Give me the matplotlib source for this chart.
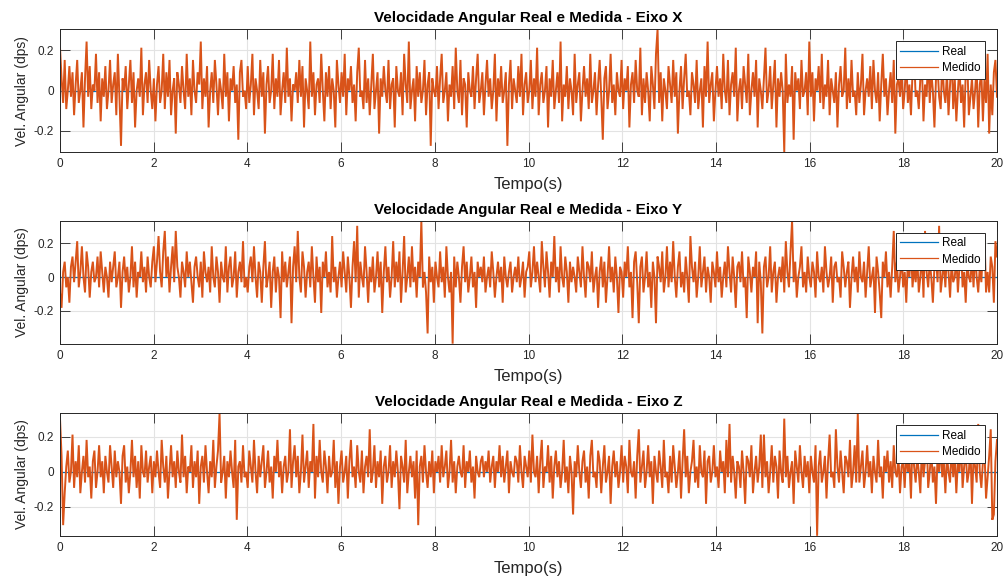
import numpy as np
import matplotlib
matplotlib.use("Agg")
import matplotlib.pyplot as plt

plt.rcParams['font.family'] = ['Liberation Sans', 'DejaVu Sans']

# gyro LSB in dps (measured values are quantized to this step)
LSB = 0.0305

titles = ["Velocidade Angular Real e Medida - Eixo X",
          "Velocidade Angular Real e Medida - Eixo Y",
          "Velocidade Angular Real e Medida - Eixo Z"]
legend_labels = ["Real", "Medido"]
x_label = "Tempo(s)"
y_label = "Vel. Angular (dps)"
x_ticks = [0, 2, 4, 6, 8, 10, 12, 14, 16, 18, 20]
y_ticks = [-0.2, 0, 0.2]
y_tick_labels = ["-0.2", "0", "0.2"]
t_start, t_end = 0.0, 20.0

real_t = [0.0, 20.0]
real_x = [0.0, 0.0]
real_y = [0.0, 0.0]
real_z = [0.0, 0.0]

medido_x_lsb = [
    7, 2, -2, 5, -3, 0, 4, -1, 3, -4, 1, 5, -2, 0, 3, -6, 2, 8, -1, 4, -3, 1, 0, 6, -2, 3, -5, 2, -1, 4,
    -3, 0, 5, -2, 1, 3, -4, 6, -1, -9, 2, 0, 4, -3, 1, 5, -2, 3, -6, 0, 2, -1, 7, -4, 1, 3, -2, 5, 0, -3,
    2, -5, 1, 4, -2, 0, 6, -3, 3, -1, 5, -4, 0, 2, -7, 3, 1, -2, 4, 0, -3, 6, -1, 2, -4, 5, 0, -2, 3, 1,
    8, -3, 2, -1, 4, -6, 0, 3, -2, 5, 1, -4, 2, 0, -3, 6, -1, 3, -5, 2, 0, 4, -2, 1, -8, 3, 5, -1, 0, -3,
    4, -2, 1, 6, -4, 2, 0, -3, 5, -1, 3, -7, 1, 4, -2, 0, 6, -3, 2, -1, 5, -4, 0, 3, -2, 7, -1, 2, -5, 1,
    0, 3, -2, 5, -1, 4, -6, 2, 0, -3, 8, -1, 3, -4, 1, 2, -2, 6, 0, -5, 3, -1, 4, -3, 2, 0, -6, 5, 1, -2,
    3, -1, 6, -4, 2, 0, 4, -2, 1, -5, 3, 7, -1, 0, -3, 5, -2, 2, -4, 1, 6, -3, 0, 3, -7, 2, -1, 4, 0, -2,
    5, -3, 1, 2, -6, 4, 0, -1, 3, -4, 6, 1, -2, 8, -3, 0, 2, -5, 4, -1, 3, -2, 0, 5, -4, 1, 3, -9, 2, 0,
    -1, 4, -3, 2, 6, -2, 0, 3, -5, 1, -1, 4, -3, 7, 0, -2, 5, -4, 2, 1, -6, 3, 0, -1, 4, -3, 2, 6, -2, 0,
    3, -4, 1, 5, -1, 2, -3, 0, 6, -5, 2, -1, 4, -2, 0, 3, -9, 1, 5, -3, 2, 0, -2, 4, -1, 6, -4, 1, 3, -2,
    0, 5, -3, 2, -1, 7, -4, 1, 3, -2, 0, 4, -6, 2, -1, 5, -3, 0, 3, -2, 8, -5, 1, -1, 4, -3, 2, 0, -4, 6,
    -2, 1, 3, -5, 0, 4, -1, 2, -3, 6, -2, 0, 3, -4, 1, 5, -1, -8, 2, 4, -3, 0, 6, -2, 1, -4, 3, 0, -1, 5,
    -3, 2, 0, 4, -6, 1, 3, -2, 5, 0, -1, 7, -4, 2, -2, 3, 0, -5, 4, 1, -3, 6, 10, -2, 3, -5, 2, 0, -3, 4,
    1, -2, 5, -1, 3, -7, 0, 4, -3, 2, 6, -1, 0, -4, 3, 1, -2, 5, -3, 0, 2, -6, 4, -1, 8, -2, 1, 3, -5, 0,
    4, -1, 2, -3, 6, 0, -2, 5, -4, 1, 3, -1, 7, -5, 0, 2, -3, 4, 1, -2, 6, -4, 0, 3, -1, 5, -6, 2, 0, -3,
    2, 7, -2, 0, 4, -3, 1, 5, -6, 2, -1, 3, 0, -10, 6, -2, 1, -1, 4, -8, 3, 0, 2, -3, 5, -1, 0, 3, -4, 8,
    -1, 3, -5, 2, 0, 4, -2, 6, -3, 1, -1, 5, -4, 2, 0, -2, 3, -6, 1, 4, -1, 0, 7, -3, 2, -2, 5, -1, 0, -4,
    3, -2, 1, 6, -4, 0, 2, -1, 4, -3, 5, 0, -2, 3, -5, 1, 6, -1, 2, -4, 0, 3, -2, 5, -7, 1, 2, -1, 4, -3,
    0, 5, -2, 1, -4, 3, 6, -1, 0, -3, 2, 4, -5, 1, -1, 6, -2, 3, 0, -6, 2, 4, -1, -3, 5, 0, -2, 3, -4, 1,
    6, -3, 2, -5, 0, 4, -2, 1, -6, 3, 5, -4, -1, 2, -3, 0, 4, -6, 1, 3, -5, 2, -2, 6, -7, 1, -4, 3, 5, -1,
]

medido_y_lsb = [
    -3, -6, 1, 3, -2, 0, -5, 2, 4, -1, 3, 7, -2, 1, 6, 0, -3, 5, 2, -4, 1, 3, -1, 0, 4, -2, 5, 1, -3, 2,
    0, -4, 3, -1, 2, 5, -2, 0, 3, -6, 1, 4, -1, 2, -3, 0, 6, -2, 3, -4, 1, 0, 5, -1, 2, -3, 4, 0, -2, 3,
    6, -1, 3, 8, 1, -2, 5, 9, 0, 4, -3, 2, 6, -1, 9, 2, 0, -4, 3, 1, -2, 5, 0, 3, -1, -5, 2, 4, 0, -2,
    3, -4, 5, 1, -1, 2, -3, 6, 0, -2, 4, 1, -5, 3, 0, -1, 6, -3, 2, 4, -2, 0, 5, -4, 1, 3, -1, 7, -2, 0,
    -3, 2, 4, -1, 6, 0, -4, 3, 1, -5, 2, 7, -2, 0, 3, -6, 1, 4, -3, 2, 0, -8, 5, -1, 3, -2, 1, 4, -9, 2,
    6, -1, 9, 0, -3, 5, 2, -4, 1, 3, -2, 6, 0, -5, 4, -1, 2, -7, 3, 0, 5, -2, 1, -3, 8, -1, 2, -4, 0, 3,
    -2, 5, 1, -3, 4, 0, -6, 2, 7, -1, 10, -4, 3, 0, -2, 6, 1, -5, 2, -1, 4, -3, 0, 5, -2, 3, -7, 1, 6, -1,
    2, -4, 0, 7, -2, 3, -1, 5, -5, 1, 8, -3, 0, 4, -2, 6, -1, 2, -4, 3, 0, 11, -2, 1, -3, -11, 4, -1, 2, -5,
    3, 0, -2, 5, -1, 2, -4, 6, 0, -3, 1, -13, 4, -2, 3, 0, -5, 2, 6, -1, 3, -3, 0, 4, -2, 1, -6, 3, 0, 2,
    -1, 4, -3, 0, 2, -2, 5, 1, -4, 0, 3, -1, 2, -5, 4, 0, -2, 1, 3, -3, 0, 2, -1, 4, -2, 0, 3, -4, 1, 2,
    5, -2, 1, 6, -1, 3, 0, -3, 7, 2, -2, 5, 1, -4, 3, 0, 8, -1, 2, -3, 6, 0, -2, 4, 1, -5, 3, -1, 2, 0,
    -3, 4, 1, -2, 6, 0, -4, 3, 2, -1, 5, -3, 0, 2, -6, 1, 4, -2, 3, -5, 0, 6, -1, 2, -3, 4, 0, -7, 2, 1,
    -4, 3, 0, 6, -2, 1, -8, 3, 5, -1, -9, 2, 4, -3, 0, 5, -2, 1, -6, 3, 0, -9, 4, 2, -1, 5, -3, 0, 6, -2,
    3, -1, 7, 0, -4, 2, 5, -2, 1, -3, 4, 0, -5, 8, 2, -1, 3, -4, 0, 6, -2, 1, 4, -3, 2, 0, -5, 3, 1, -2,
    5, -1, 2, -4, 0, 3, -2, 6, 1, -3, 4, 0, -6, 2, 3, -1, 5, -2, 0, -8, 4, 1, -3, 2, 0, 5, -9, 3, -1, -11,
    2, 4, -2, 0, 6, -3, 1, 3, -5, 0, 2, -1, 4, -3, 7, 1, -2, 5, 11, -1, 3, -4, 0, 2, 6, -2, 1, -3, 4, 0,
    -2, 3, 1, -4, 5, 0, -1, 2, -3, 6, 1, -2, 0, 4, -5, 2, 3, -1, 0, -4, 5, 2, -2, 1, 3, -6, 0, 4, -1, 2,
    -3, 5, 0, -1, 3, -4, 1, 6, -2, 0, 2, -7, 4, 1, -3, -8, 3, 0, 5, -2, 1, -4, 2, 9, -1, 3, -3, 0, 4, -2,
    1, -5, 3, 0, 6, -2, 2, -1, 4, -3, 0, 5, -4, 9, 1, -2, 3, 0, -5, 2, 4, -1, 10, -3, 0, 3, -2, 5, 1, -4,
    3, -1, 0, 4, -3, 2, 6, -2, 1, -5, 3, 0, -1, 4, -2, 5, 0, -3, 2, -1, 6, 8, -3, 1, -3, 4, 2, -5, 7, 4,
]

medido_z_lsb = [
    10, 3, -10, -4, 1, 4, -2, 0, 7, -3, 2, -1, 5, -4, 0, 3, -2, 6, -1, 1, -5, 2, 4, -3, 0, 5, -1, 2, -4, 3,
    0, -2, 5, 1, -3, 4, -1, 2, 0, -6, 3, 5, -2, 1, -4, 0, 6, -1, 3, -3, 2, -5, 5, 0, -1, 4, -2, 1, 3, -4,
    2, -1, 4, 0, -3, 6, 1, -2, 3, -5, 0, 5, -1, 2, -3, 4, 0, -2, 7, -1, 3, -4, 1, 0, 5, -3, 2, -1, 4, -6,
    1, 3, -2, 5, 0, -4, 2, -1, 6, -3, 1, 4, 11, -2, 0, 3, -5, 2, -1, 4, 0, -3, 6, -9, 1, 2, -2, 5, -1, 0,
    -3, 4, 1, -2, 6, 0, -4, 3, -1, 2, 5, -3, 0, 4, -2, 1, -5, 3, 0, 6, -1, 2, -4, 1, 3, -2, 0, 8, -3, 2,
    5, -1, 3, -4, 0, 7, -2, 1, 4, -3, 2, 0, 9, -5, 3, -1, 6, 0, -2, 4, 1, -4, 3, -1, 0, 6, -3, 2, -6, 1,
    4, -2, 0, 3, -5, 2, 6, -1, 1, -3, 5, 0, -2, 4, -4, 1, 3, -1, 8, -2, 0, 5, -3, 2, -1, 4, -6, 1, 3, -2,
    0, 5, -3, 2, -1, 4, 0, -7, 3, 1, -2, 6, -4, 0, 3, -1, 2, -5, 4, -10, 1, 3, -2, 5, 0, -3, 2, -1, 4, -4,
    2, 0, 3, -2, 5, -1, 1, 4, -3, 0, 6, -2, 2, -4, 1, 3, 0, -1, 5, -3, 2, 0, 4, -2, 1, -5, 3, 0, -1, 2,
    3, -1, 2, 0, 4, -2, 1, 3, -3, 2, 0, 5, -1, 3, -2, 1, 4, -4, 2, 0, -1, 3, 2, -2, 5, 0, -3, 3, 1, -1,
    4, -2, 7, 0, -1, 3, -4, 2, 6, -3, 1, 0, 5, -2, 3, -5, 1, 4, -1, 2, -3, 0, 6, -2, 1, -4, 3, 0, -8, 2,
    -1, 5, 0, -3, 2, 4, -2, 1, -5, 3, 6, -1, 0, -3, 4, 2, -4, 1, 5, -2, 0, 3, -6, 1, 4, -1, 2, -3, 0, 5,
    -2, 3, 1, -4, 6, 0, -1, 2, -5, 3, 8, -2, 1, 4, -3, 0, 5, -1, 2, -6, 3, 0, -2, 4, 1, -3, 6, -1, 0, -4,
    3, -2, 5, 1, -3, 0, 4, -5, 2, 8, -1, 3, -4, 0, 2, 6, -2, 1, -3, 5, 0, -1, 4, -6, 2, 3, -2, 0, 5, -1,
    1, -3, 4, 0, 2, -4, 6, -1, 9, -2, 3, 0, -5, 2, 1, -3, 4, 0, -6, 3, 2, -1, 5, -4, 0, 3, -2, 1, 7, -3,
    7, -1, 2, -4, 0, 5, -2, 3, 1, -5, 4, 0, -2, 10, -1, 3, -3, 0, 2, -6, 4, 1, -2, 5, 0, -3, 3, -1, 2, -4,
    3, 0, -2, 5, -12, 1, 4, -2, 0, 3, -5, 2, 7, -1, 0, -3, 8, 1, -2, 4, 0, -4, 3, 2, -1, 6, -3, 0, 5, -2,
    11, -2, 1, 4, -3, 0, 5, -1, 2, -4, 3, 0, -2, 6, -1, 1, -5, 3, 0, 4, -2, 2, -3, 5, 0, -1, 3, -4, 1, 2,
    -3, 4, 0, 2, -5, 6, 1, -2, 3, 0, -4, 5, -1, 2, 7, -3, 0, 4, -2, 1, -6, 3, 0, 5, -1, 2, -4, 3, 0, -2,
    5, -1, 3, -4, 2, 0, 6, -3, 1, 4, -2, 0, 5, -6, 3, 1, -2, 9, 0, -3, 2, 4, -5, -1, 3, 8, -9, -8, 2, 6,
]

BLUE = "#0072BD"
ORANGE = "#D95319"
DARK = "#262626"

W, H = 1008, 582
fig = plt.figure(figsize=(W / 100, H / 100), dpi=100)

# axes boxes in pixels: (top, bottom)
boxes = [(29.3, 152.0), (220.7, 343.7), (413.3, 535.8)]
left_px, right_px = 60.0, 997.0

series = [(real_x, medido_x_lsb), (real_y, medido_y_lsb), (real_z, medido_z_lsb)]

for (top, bot), title, (real_vals, med_lsb) in zip(boxes, titles, series):
    ax = fig.add_axes([left_px / W, 1 - bot / H, (right_px - left_px) / W, (bot - top) / H])
    med = np.asarray(med_lsb, dtype=float) * LSB
    t = np.linspace(t_start, t_end, len(med))
    ax.plot(real_t, real_vals, color=BLUE, lw=0.9, label=legend_labels[0], zorder=2)
    ax.plot(t, med, color=ORANGE, lw=1.4, solid_joinstyle="miter",
            label=legend_labels[1], zorder=3)
    ax.set_xlim(t_start, t_end)
    ax.set_ylim(med.min(), med.max())
    ax.set_xticks(x_ticks)
    ax.set_xticklabels([str(v) for v in x_ticks])
    ax.set_yticks(y_ticks)
    ax.set_yticklabels(y_tick_labels)
    ax.grid(True, color="#e3e3e3", lw=0.8, zorder=0)
    ax.set_axisbelow(True)
    ax.tick_params(direction="in", length=7, width=0.6, color=DARK, labelcolor=DARK,
                   labelsize=8.5, top=True, right=True, pad=4.5)
    for s in ax.spines.values():
        s.set_color(DARK)
        s.set_linewidth(0.7)
        s.set_zorder(5)
    ax.set_title(title, fontsize=11, fontweight="bold", color="black", pad=5)
    ax.set_xlabel(x_label, fontsize=12, color=DARK, labelpad=5)
    ax.set_ylabel(y_label, fontsize=10, color=DARK, labelpad=3)
    leg = ax.legend(loc="upper right", bbox_to_anchor=(1 - 12 / 937, 1 - 12 / (bot - top)),
                    borderaxespad=0, fontsize=8.5, frameon=True, fancybox=False,
                    framealpha=1, edgecolor=DARK, handlelength=3.2, handletextpad=0.3,
                    labelspacing=0.35, borderpad=0.4)
    for line in leg.get_lines():
        line.set_linewidth(0.9)
    leg.get_frame().set_linewidth(0.7)
    leg.set_zorder(10)

fig.savefig("out.png", dpi=100)
